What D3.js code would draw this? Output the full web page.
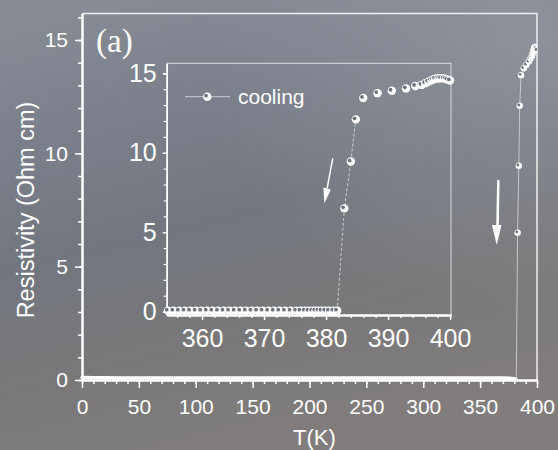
<!DOCTYPE html>
<html>
<head>
<meta charset="utf-8">
<script src="https://cdn.jsdelivr.net/npm/d3@7"></script>
<style>
html, body { margin: 0; padding: 0; background: #7a7e86; }
svg { display: block; }
text { font-family: "Liberation Sans", Arial, sans-serif; fill: #fff; }
</style>
</head>
<body>
<script>
// flat part of the cooling curve, main panel (coarse)
var mainLowT = [0, 10, 20, 30, 40, 50, 60, 70, 80, 90, 100, 110, 120, 130, 140, 150, 160, 170, 180, 190,
  200, 210, 220, 230, 240, 250, 260, 270, 280, 290, 300, 310, 320, 330, 340, 350, 360, 370, 376, 380, 381.8];
var mainLowR = [0.11, 0.1, 0.1, 0.09, 0.09, 0.09, 0.09, 0.09, 0.09, 0.09, 0.09, 0.09, 0.09, 0.09, 0.09, 0.09, 0.09, 0.09, 0.09, 0.09,
  0.09, 0.09, 0.09, 0.09, 0.09, 0.09, 0.09, 0.09, 0.09, 0.09, 0.09, 0.09, 0.09, 0.09, 0.09, 0.09, 0.09, 0.09, 0.08, 0.06, 0.02];

// flat part as seen in the inset
var insetLowT = [354.5, 355.4, 356.3, 357.2, 358.1, 359.0, 359.9, 360.8, 361.7, 362.6, 363.5, 364.4, 365.3, 366.2,
  367.1, 368.0, 368.9, 369.8, 370.7, 371.6, 372.5, 373.4, 374.3, 375.2, 375.9, 376.6, 377.2, 377.8, 378.3,
  378.8, 379.3, 379.9, 380.5, 381.2, 381.8];
var insetLowR = [0.06, 0.06, 0.06, 0.06, 0.06, 0.06, 0.06, 0.06, 0.06, 0.06, 0.06, 0.06, 0.06, 0.06,
  0.06, 0.06, 0.06, 0.06, 0.06, 0.06, 0.06, 0.06, 0.06, 0.06, 0.06, 0.06, 0.06, 0.06, 0.06,
  0.06, 0.06, 0.06, 0.06, 0.06, 0.06];

// jump above the transition
var jumpT = [382.95, 384.0, 384.8, 386.0, 388.3, 390.6, 392.9, 394.4, 395.4, 396.0, 396.5, 397.0, 397.3,
  397.6, 398.0, 398.3, 398.6, 399.0, 399.3, 399.6, 400.0];
var jumpR = [6.5, 9.45, 12.1, 13.45, 13.75, 13.9, 14.05, 14.2, 14.27, 14.38, 14.47, 14.56, 14.62,
  14.66, 14.68, 14.69, 14.69, 14.68, 14.65, 14.6, 14.55];

var mainXTicks = [0, 50, 100, 150, 200, 250, 300, 350, 400];
var mainYTicks = [0, 5, 10, 15];
var insetXTicks = [360, 370, 380, 390, 400];
var insetYTicks = [0, 5, 10, 15];

var W = 558, H = 450;

function main() {
  var svg = d3.select("body").append("svg").attr("width", W).attr("height", H);
  drawBackground(svg);
  drawMain(svg);
  drawInset(svg);
}

function drawBackground(svg) {
  var defs = svg.append("defs");
  var grad = defs.append("linearGradient").attr("id", "bg")
    .attr("x1", 0.2).attr("y1", 0).attr("x2", 0.5).attr("y2", 1);
  var stops = [[0, "#868b94"], [0.25, "#7a7f89"], [0.5, "#72777f"], [0.75, "#797879"], [1, "#817d7c"]];
  stops.forEach(function(s) {
    grad.append("stop").attr("offset", s[0]).attr("stop-color", s[1]);
  });
  var glow = defs.append("radialGradient").attr("id", "glow")
    .attr("cx", 0.95).attr("cy", 0.1).attr("r", 0.6);
  glow.append("stop").attr("offset", 0).attr("stop-color", "#9a9ea6").attr("stop-opacity", 0.6);
  glow.append("stop").attr("offset", 1).attr("stop-color", "#9a9ea6").attr("stop-opacity", 0);
  svg.append("rect").attr("width", W).attr("height", H).attr("fill", "url(#bg)");
  svg.append("rect").attr("width", W).attr("height", H).attr("fill", "url(#glow)");
}

function marker(g, x, y, r) {
  g.append("circle").attr("cx", x).attr("cy", y).attr("r", r).attr("fill", "#fff");
  g.append("circle").attr("cx", x - r * 0.3).attr("cy", y - r * 0.25).attr("r", r * 0.45).attr("fill", "#6e737b");
}

function styleAxis(g, width) {
  g.select(".domain").attr("stroke", "#fff").attr("stroke-width", width);
  g.selectAll(".tick line").attr("stroke", "#fff").attr("stroke-width", 1.5);
}

function drawMain(svg) {
  var x = d3.scaleLinear().domain([0, 400]).range([82, 537]);
  var y = d3.scaleLinear().domain([0, 16.17]).range([380, 13.5]);
  var g = svg.append("g");

  // frame top / right
  g.append("path").attr("d", "M82,13.5H537V380").attr("fill", "none")
    .attr("stroke", "#eee").attr("stroke-width", 1.5);

  // minor ticks
  var xm = g.append("g").attr("transform", "translate(0,380)")
    .call(d3.axisBottom(x).tickValues(d3.range(0, 401, 10)).tickSize(4).tickSizeOuter(0).tickFormat(""));
  styleAxis(xm, 2);
  var ym = g.append("g").attr("transform", "translate(82,0)")
    .call(d3.axisLeft(y).tickValues(d3.range(0, 17, 1)).tickSize(4).tickSizeOuter(0).tickFormat(""));
  styleAxis(ym, 2);

  var xa = g.append("g").attr("transform", "translate(0,380)")
    .call(d3.axisBottom(x).tickValues(mainXTicks).tickSize(8).tickSizeOuter(0).tickPadding(11));
  styleAxis(xa, 2);
  xa.selectAll("text").attr("font-size", 21).attr("fill", "#fff").attr("font-family", null);
  var ya = g.append("g").attr("transform", "translate(82,0)")
    .call(d3.axisLeft(y).tickValues(mainYTicks).tickSize(7).tickSizeOuter(0).tickPadding(7));
  styleAxis(ya, 2);
  ya.selectAll("text").attr("font-size", 21).attr("fill", "#fff").attr("font-family", null);

  // flat part drawn as a thick band of overlapping symbols
  var low = d3.line().x(function(d) { return x(d[0]); }).y(function(d) { return y(d[1]); });
  var lowPts = mainLowT.map(function(t, i) { return [t, mainLowR[i]]; });
  g.append("path").attr("d", low(lowPts)).attr("fill", "none").attr("stroke", "#fff")
    .attr("stroke-width", 3.6).attr("stroke-linecap", "round");

  // thin connecting line through the jump
  var conn = [lowPts[lowPts.length - 1]].concat(jumpT.map(function(t, i) { return [t, jumpR[i]]; }));
  g.append("path").attr("d", low(conn)).attr("fill", "none").attr("stroke", "#ddd")
    .attr("stroke-width", 1).attr("opacity", 0.75);

  var clip = svg.append("clipPath").attr("id", "mainclip");
  clip.append("rect").attr("x", 82).attr("y", 13.5).attr("width", 455).attr("height", 366.5);
  var mg = g.append("g").attr("clip-path", "url(#mainclip)");
  for (var i = 0; i < jumpT.length; i++) {
    marker(mg, x(jumpT[i]), y(jumpR[i]), 3.2);
  }

  // arrow
  var ax = x(366.0), ay = y(8.82), tx = x(364.6), ty = y(5.96), hy = y(6.84);
  g.append("line").attr("x1", ax).attr("y1", ay).attr("x2", (ax + tx) / 2).attr("y2", hy)
    .attr("stroke", "#fff").attr("stroke-width", 2.5);
  g.append("path").attr("d", "M" + (tx - 4.8) + "," + hy + "L" + (tx + 4.8) + "," + hy + "L" + tx + "," + ty + "Z")
    .attr("fill", "#fff");

  // titles
  g.append("text").attr("transform", "translate(34,210) rotate(-90)").attr("text-anchor", "middle")
    .attr("font-size", 23.5).text("Resistivity (Ohm cm)");
  g.append("text").attr("x", 314.5).attr("y", 444.5).attr("text-anchor", "middle")
    .attr("font-size", 22).text("T(K)");
  g.append("text").attr("x", 96).attr("y", 52).attr("font-size", 33)
    .style("font-family", "'Liberation Serif', 'Times New Roman', serif").text("(a)");
}

function drawInset(svg) {
  var x = d3.scaleLinear().domain([354.3, 400.15]).range([166.7, 451]);
  var y = d3.scaleLinear().domain([-0.21, 15.63]).range([315, 63.3]);
  var g = svg.append("g");

  g.append("path").attr("d", "M166.7,63.3H451V315").attr("fill", "none")
    .attr("stroke", "#c9cbce").attr("stroke-width", 1.2);

  var xm = g.append("g").attr("transform", "translate(0,315)")
    .call(d3.axisBottom(x).tickValues(d3.range(356, 401, 2)).tickSize(3).tickSizeOuter(0).tickFormat(""));
  styleAxis(xm, 2);
  xm.selectAll(".tick line").attr("stroke-width", 1.2);
  var ym = g.append("g").attr("transform", "translate(166.7,0)")
    .call(d3.axisLeft(y).tickValues(d3.range(0, 16, 1)).tickSize(3).tickSizeOuter(0).tickFormat(""));
  styleAxis(ym, 1.5);
  ym.selectAll(".tick line").attr("stroke-width", 1.2);

  var xa = g.append("g").attr("transform", "translate(0,315)")
    .call(d3.axisBottom(x).tickValues(insetXTicks).tickSize(5).tickSizeOuter(0).tickPadding(9));
  styleAxis(xa, 2);
  xa.selectAll("text").attr("font-size", 25).attr("fill", "#fff").attr("font-family", null);
  var ya = g.append("g").attr("transform", "translate(166.7,0)")
    .call(d3.axisLeft(y).tickValues(insetYTicks).tickSize(4).tickSizeOuter(0).tickPadding(6));
  styleAxis(ya, 1.5);
  ya.selectAll("text").attr("font-size", 25).attr("fill", "#fff").attr("font-family", null);

  var line = d3.line().x(function(d) { return x(d[0]); }).y(function(d) { return y(d[1]); });
  var lowPts = insetLowT.map(function(t, i) { return [t, insetLowR[i]]; });
  var jumpPts = jumpT.map(function(t, i) { return [t, jumpR[i]]; });
  g.append("path").attr("d", line([lowPts[lowPts.length - 1]].concat(jumpPts.slice(0, 3))))
    .attr("fill", "none").attr("stroke", "#ddd").attr("stroke-width", 1)
    .attr("stroke-dasharray", "3,2").attr("opacity", 0.8);

  lowPts.concat(jumpPts).forEach(function(p) {
    marker(g, x(p[0]), y(p[1]), 4.2);
  });

  // arrow
  var ax = x(381.08), ay = y(9.65), tx = x(379.73), ty = y(6.82);
  var hx = tx + (ax - tx) * 0.33, hy = ty + (ay - ty) * 0.33;
  g.append("line").attr("x1", ax).attr("y1", ay).attr("x2", hx).attr("y2", hy)
    .attr("stroke", "#fff").attr("stroke-width", 1.5);
  g.append("path").attr("d", "M" + (hx - 3.8) + "," + (hy - 1) + "L" + (hx + 3.8) + "," + (hy + 1) + "L" + tx + "," + ty + "Z")
    .attr("fill", "#fff");

  // legend
  g.append("line").attr("x1", 185).attr("x2", 230).attr("y1", 96.7).attr("y2", 96.7)
    .attr("stroke", "#c9cbce").attr("stroke-width", 1);
  marker(g, 207.3, 96.7, 4.2);
  g.append("text").attr("x", 238).attr("y", 103.5).attr("font-size", 21).text("cooling");
}

main();
</script>
</body>
</html>
